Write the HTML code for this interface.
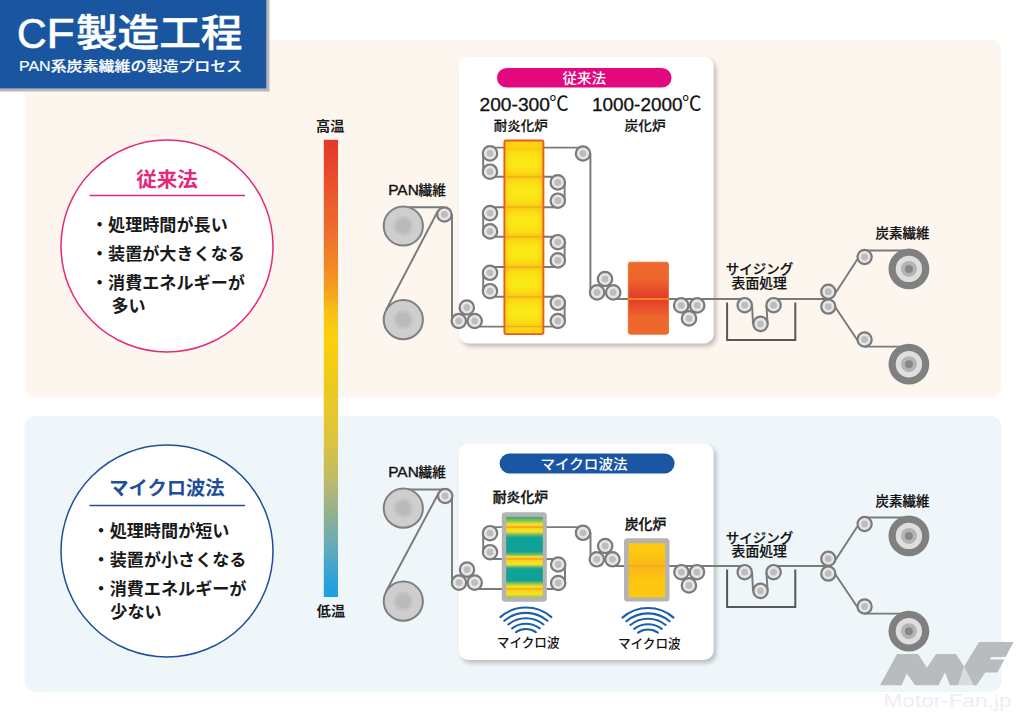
<!DOCTYPE html>
<html lang="ja"><head><meta charset="utf-8"><title>CF製造工程</title>
<style>html,body{margin:0;padding:0;background:#fff}body{width:1024px;height:722px;overflow:hidden}svg{display:block}text{font-family:"Liberation Sans","Noto Sans CJK JP",sans-serif}</style></head><body>
<svg width="1024" height="722" viewBox="0 0 1024 722">
<defs>
<linearGradient id="temp" x1="0" y1="0" x2="0" y2="1">
<stop offset="0" stop-color="#e5352b"/><stop offset="0.092" stop-color="#e9512b"/><stop offset="0.206" stop-color="#ee6f2c"/><stop offset="0.28" stop-color="#f28a24"/><stop offset="0.334" stop-color="#f5a31c"/><stop offset="0.372" stop-color="#f8bf14"/><stop offset="0.433" stop-color="#fbd00d"/><stop offset="0.504" stop-color="#f2cb14"/><stop offset="0.582" stop-color="#e9c82a"/><stop offset="0.661" stop-color="#dcc340"/><stop offset="0.74" stop-color="#c0bb68"/><stop offset="0.818" stop-color="#94b090"/><stop offset="0.897" stop-color="#5faabd"/><stop offset="0.96" stop-color="#2fa2d8"/><stop offset="1" stop-color="#1d9fe0"/>
</linearGradient>
<linearGradient id="yseg" x1="0" y1="0" x2="0" y2="1">
<stop offset="0" stop-color="#fbc214"/><stop offset="0.13" stop-color="#fbda13"/><stop offset="0.3" stop-color="#fae614"/><stop offset="0.5" stop-color="#f9ea15"/><stop offset="0.7" stop-color="#fae614"/><stop offset="0.87" stop-color="#fbda13"/><stop offset="1" stop-color="#fbc214"/>
</linearGradient>
<linearGradient id="yside" x1="0" y1="0" x2="1" y2="0">
<stop offset="0" stop-color="#f8b016" stop-opacity="0.45"/><stop offset="0.2" stop-color="#f9c514" stop-opacity="0"/><stop offset="0.8" stop-color="#f9c514" stop-opacity="0"/><stop offset="1" stop-color="#f8b016" stop-opacity="0.45"/>
</linearGradient>
<linearGradient id="carb1" x1="0" y1="0" x2="0" y2="1">
<stop offset="0" stop-color="#ee6a2b"/><stop offset="0.25" stop-color="#ec652b"/><stop offset="0.47" stop-color="#e63d2c"/><stop offset="0.53" stop-color="#e63d2c"/><stop offset="0.75" stop-color="#ec652b"/><stop offset="1" stop-color="#ee6a2b"/>
</linearGradient>
<linearGradient id="mw" x1="0" y1="0" x2="0" y2="1">
<stop offset="0" stop-color="#2fa587"/><stop offset="0.05" stop-color="#8cc152"/>
<stop offset="0.09" stop-color="#f2e226"/><stop offset="0.125" stop-color="#fbd01a"/><stop offset="0.185" stop-color="#f2e226"/>
<stop offset="0.222" stop-color="#6db96a"/><stop offset="0.26" stop-color="#10a199"/><stop offset="0.43" stop-color="#10a199"/>
<stop offset="0.467" stop-color="#6db96a"/><stop offset="0.495" stop-color="#f2e226"/><stop offset="0.52" stop-color="#fbd01a"/><stop offset="0.593" stop-color="#f2e226"/>
<stop offset="0.62" stop-color="#6db96a"/><stop offset="0.647" stop-color="#10a199"/><stop offset="0.792" stop-color="#10a199"/>
<stop offset="0.828" stop-color="#8cc152"/><stop offset="0.864" stop-color="#f4e01f"/><stop offset="0.895" stop-color="#fbd01a"/><stop offset="0.964" stop-color="#f4e01f"/>
<stop offset="1" stop-color="#9cc64a"/>
</linearGradient>
<linearGradient id="carb2" x1="0" y1="0" x2="0" y2="1">
<stop offset="0" stop-color="#fdca12"/><stop offset="0.2" stop-color="#fdc711"/><stop offset="0.38" stop-color="#fbba18"/><stop offset="0.5" stop-color="#fbba18"/><stop offset="0.68" stop-color="#fdc611"/><stop offset="1" stop-color="#fdc911"/>
</linearGradient>
<filter id="sh" x="-10%" y="-10%" width="125%" height="125%"><feGaussianBlur stdDeviation="2.1"/></filter>
</defs>
<rect x="24.5" y="40" width="977" height="357" rx="11" fill="#fdf6ee"/>
<rect x="24.5" y="416" width="977" height="276" rx="11" fill="#eef6fa"/>
<rect x="0" y="0" width="269.5" height="91.5" fill="#b7b6bd"/>
<rect x="0" y="0" width="266.3" height="88.4" fill="#1a559f"/>
<text x="16.9" y="48.2" font-size="43" font-weight="400" fill="#fff" text-anchor="start" textLength="29.6" lengthAdjust="spacingAndGlyphs" stroke="#fff" stroke-width="0.7">C</text>
<text x="46.4" y="48.2" font-size="43" font-weight="400" fill="#fff" text-anchor="start" textLength="28.1" lengthAdjust="spacingAndGlyphs" stroke="#fff" stroke-width="0.7">F</text>
<text x="76" y="46.2" font-size="38" font-weight="500" fill="#fff" text-anchor="start" textLength="166.5" lengthAdjust="spacingAndGlyphs" stroke="#fff" stroke-width="0.55">製造工程</text>
<text x="19" y="71.3" font-size="14" font-weight="500" fill="#fff" text-anchor="start" textLength="223.2" lengthAdjust="spacingAndGlyphs" stroke="#fff" stroke-width="0.2">PAN系炭素繊維の製造プロセス</text>
<rect x="323.8" y="139.8" width="14.2" height="457.2" fill="url(#temp)"/>
<text x="330.2" y="130.8" font-size="13.6" font-weight="700" fill="#1a1a1a" text-anchor="middle" textLength="28.2" lengthAdjust="spacingAndGlyphs">高温</text>
<text x="330.9" y="615.6" font-size="13.6" font-weight="700" fill="#1a1a1a" text-anchor="middle" textLength="28.2" lengthAdjust="spacingAndGlyphs">低温</text>
<circle cx="167" cy="246" r="106" fill="#fff" stroke="#e4287c" stroke-width="1.5"/>
<text x="167" y="186.5" font-size="20.5" font-weight="700" fill="#e4287c" text-anchor="middle">従来法</text>
<line x1="89.5" y1="195.5" x2="245" y2="195.5" stroke="#e4287c" stroke-width="1.3"/>
<text x="91" y="230.5" font-size="17.1" font-weight="700" fill="#1a1a1a" text-anchor="start">・処理時間が長い</text>
<text x="91" y="259.5" font-size="17.1" font-weight="700" fill="#1a1a1a" text-anchor="start">・装置が大きくなる</text>
<text x="91" y="288.5" font-size="17.1" font-weight="700" fill="#1a1a1a" text-anchor="start">・消費エネルギーが</text>
<text x="111.5" y="311.5" font-size="17.1" font-weight="700" fill="#1a1a1a" text-anchor="start">多い</text>
<circle cx="167" cy="551" r="106" fill="#fff" stroke="#1f4e9a" stroke-width="1.5"/>
<text x="167" y="494.5" font-size="19.3" font-weight="700" fill="#1f4e9a" text-anchor="middle">マイクロ波法</text>
<line x1="89.5" y1="505.5" x2="245" y2="505.5" stroke="#1f4e9a" stroke-width="1.3"/>
<text x="92.6" y="536.8" font-size="17.1" font-weight="700" fill="#1a1a1a" text-anchor="start">・処理時間が短い</text>
<text x="92.6" y="565.8" font-size="17.1" font-weight="700" fill="#1a1a1a" text-anchor="start">・装置が小さくなる</text>
<text x="92.6" y="594.8" font-size="17.1" font-weight="700" fill="#1a1a1a" text-anchor="start">・消費エネルギーが</text>
<text x="110.3" y="617.8" font-size="17.1" font-weight="700" fill="#1a1a1a" text-anchor="start">少ない</text>
<rect x="461.2" y="60" width="255" height="286.4" rx="9.5" fill="#3a3632" opacity="0.3" filter="url(#sh)"/>
<rect x="458.7" y="57" width="255" height="286.4" rx="9.5" fill="#fff"/>
<rect x="497" y="67.9" width="174.5" height="19.6" rx="9.8" fill="#e4087e"/>
<text x="584.3" y="82.6" font-size="13.6" font-weight="500" fill="#fff" text-anchor="middle" textLength="43.6" lengthAdjust="spacingAndGlyphs">従来法</text>
<text x="479.5" y="111" font-size="18.8" font-weight="400" fill="#111" text-anchor="start" textLength="70.5" lengthAdjust="spacingAndGlyphs" stroke="#111" stroke-width="0.3">200-300</text>
<text x="549.3" y="111.3" font-size="20" font-weight="400" fill="#111" text-anchor="start" textLength="19.5" lengthAdjust="spacingAndGlyphs">℃</text>
<text x="592" y="111" font-size="18.8" font-weight="400" fill="#111" text-anchor="start" textLength="90.5" lengthAdjust="spacingAndGlyphs" stroke="#111" stroke-width="0.3">1000-2000</text>
<text x="682" y="111.3" font-size="20" font-weight="400" fill="#111" text-anchor="start" textLength="19.5" lengthAdjust="spacingAndGlyphs">℃</text>
<text x="520.8" y="130.4" font-size="13" font-weight="500" fill="#111" text-anchor="middle" textLength="54" lengthAdjust="spacingAndGlyphs" stroke="#111" stroke-width="0.2">耐炎化炉</text>
<text x="645.1" y="130.4" font-size="13" font-weight="500" fill="#111" text-anchor="middle" textLength="41" lengthAdjust="spacingAndGlyphs" stroke="#111" stroke-width="0.2">炭化炉</text>
<text x="388.2" y="195" font-size="14.3" font-weight="400" fill="#111" text-anchor="start" textLength="30.6" lengthAdjust="spacingAndGlyphs" stroke="#111" stroke-width="0.35">PAN</text>
<text x="418.6" y="195" font-size="13.2" font-weight="500" fill="#111" text-anchor="start" textLength="27.4" lengthAdjust="spacingAndGlyphs" stroke="#111" stroke-width="0.2">繊維</text>
<path d="M403.3,207.3 H444 M385.8,310.5 L438,210.7 M452,214.5 V320" fill="none" stroke="#7a7a7a" stroke-width="1.95" stroke-linejoin="round"/>
<circle cx="403.3" cy="226" r="19.6" fill="#cecece" stroke="#7f7f7f" stroke-width="2"/><circle cx="403.3" cy="226" r="10" fill="#c4c4c4"/><circle cx="403.3" cy="226" r="7.2" fill="#bababa"/>
<circle cx="403.3" cy="319.7" r="19.6" fill="#cecece" stroke="#7f7f7f" stroke-width="2"/><circle cx="403.3" cy="319.7" r="10" fill="#c4c4c4"/><circle cx="403.3" cy="319.7" r="7.2" fill="#bababa"/>
<path d="M474.5,326.6 H557.8 M490,296.8 H557.8 M490,267 H557.8 M490,236.8 H557.8 M490,207.3 H557.8 M490,176.8 H557.8 M490,147.6 H583 M483.2,153.4 V171.7 M483.2,213.1 V231.4 M483.2,272.8 V291.2 M564.6,182.4 V200.7 M564.6,242.2 V260.4 M564.6,302.8 V321 M590.4,153.5 V292.4 M613,299 H745 " fill="none" stroke="#7a7a7a" stroke-width="1.95" stroke-linejoin="round"/>
<path d="M752.1,305.2 L753,323.8 M767.6,323.8 L766.4,305.2 M773.6,299 H828 M835.5,293 L857.3,259.5 M864.5,250.4 H905 M835.5,307.5 L858,341 M864.5,346.6 H905" fill="none" stroke="#7a7a7a" stroke-width="1.95" stroke-linejoin="round"/>
<rect x="504.4" y="140.5" width="39" height="193.6" rx="1.5" fill="#fbe713"/>
<g>
<rect x="504.4" y="147.6" width="39" height="29.2" fill="url(#yseg)"/>
<rect x="504.4" y="176.8" width="39" height="30.5" fill="url(#yseg)"/>
<rect x="504.4" y="207.3" width="39" height="29.5" fill="url(#yseg)"/>
<rect x="504.4" y="236.8" width="39" height="30.2" fill="url(#yseg)"/>
<rect x="504.4" y="267.0" width="39" height="29.8" fill="url(#yseg)"/>
<rect x="504.4" y="296.8" width="39" height="29.8" fill="url(#yseg)"/>
<rect x="504.4" y="140.5" width="39" height="7.1" fill="#fbd513"/>
<rect x="504.4" y="326.6" width="39" height="7.5" fill="#fbd513"/>
<rect x="504.4" y="140.5" width="39" height="193.6" fill="url(#yside)"/>
</g>
<path d="M504.4,176.8 H543.4 M504.4,207.3 H543.4 M504.4,236.8 H543.4 M504.4,267 H543.4 M504.4,296.8 H543.4 M504.4,326.6 H543.4" stroke="#d9902a" stroke-width="1.1" fill="none" opacity="0.55"/>
<rect x="504.4" y="140.5" width="39" height="193.6" rx="1.5" fill="none" stroke="#ea5b1d" stroke-width="1.9"/>
<circle cx="490" cy="153.4" r="7.2" fill="#e6e6e6" stroke="#7a7a7a" stroke-width="2.2"/><circle cx="490" cy="153.4" r="3.4" fill="#bdbdbd"/>
<circle cx="490" cy="171.7" r="7.2" fill="#e6e6e6" stroke="#7a7a7a" stroke-width="2.2"/><circle cx="490" cy="171.7" r="3.4" fill="#bdbdbd"/>
<circle cx="490" cy="213.1" r="7.2" fill="#e6e6e6" stroke="#7a7a7a" stroke-width="2.2"/><circle cx="490" cy="213.1" r="3.4" fill="#bdbdbd"/>
<circle cx="490" cy="231.4" r="7.2" fill="#e6e6e6" stroke="#7a7a7a" stroke-width="2.2"/><circle cx="490" cy="231.4" r="3.4" fill="#bdbdbd"/>
<circle cx="490" cy="272.8" r="7.2" fill="#e6e6e6" stroke="#7a7a7a" stroke-width="2.2"/><circle cx="490" cy="272.8" r="3.4" fill="#bdbdbd"/>
<circle cx="490" cy="291.2" r="7.2" fill="#e6e6e6" stroke="#7a7a7a" stroke-width="2.2"/><circle cx="490" cy="291.2" r="3.4" fill="#bdbdbd"/>
<circle cx="557.8" cy="182.4" r="7.2" fill="#e6e6e6" stroke="#7a7a7a" stroke-width="2.2"/><circle cx="557.8" cy="182.4" r="3.4" fill="#bdbdbd"/>
<circle cx="557.8" cy="200.7" r="7.2" fill="#e6e6e6" stroke="#7a7a7a" stroke-width="2.2"/><circle cx="557.8" cy="200.7" r="3.4" fill="#bdbdbd"/>
<circle cx="557.8" cy="242.2" r="7.2" fill="#e6e6e6" stroke="#7a7a7a" stroke-width="2.2"/><circle cx="557.8" cy="242.2" r="3.4" fill="#bdbdbd"/>
<circle cx="557.8" cy="260.4" r="7.2" fill="#e6e6e6" stroke="#7a7a7a" stroke-width="2.2"/><circle cx="557.8" cy="260.4" r="3.4" fill="#bdbdbd"/>
<circle cx="557.8" cy="302.8" r="7.2" fill="#e6e6e6" stroke="#7a7a7a" stroke-width="2.2"/><circle cx="557.8" cy="302.8" r="3.4" fill="#bdbdbd"/>
<circle cx="557.8" cy="321" r="7.2" fill="#e6e6e6" stroke="#7a7a7a" stroke-width="2.2"/><circle cx="557.8" cy="321" r="3.4" fill="#bdbdbd"/>
<circle cx="583" cy="153.5" r="7.2" fill="#e6e6e6" stroke="#7a7a7a" stroke-width="2.2"/><circle cx="583" cy="153.5" r="3.4" fill="#bdbdbd"/>
<circle cx="444.4" cy="214.5" r="7.2" fill="#e6e6e6" stroke="#7a7a7a" stroke-width="2.2"/><circle cx="444.4" cy="214.5" r="3.4" fill="#bdbdbd"/>
<circle cx="466.8" cy="307.5" r="7.2" fill="#e6e6e6" stroke="#7a7a7a" stroke-width="2.2"/><circle cx="466.8" cy="307.5" r="3.4" fill="#bdbdbd"/>
<circle cx="458.8" cy="321" r="7.2" fill="#e6e6e6" stroke="#7a7a7a" stroke-width="2.2"/><circle cx="458.8" cy="321" r="3.4" fill="#bdbdbd"/>
<circle cx="474.7" cy="321" r="7.2" fill="#e6e6e6" stroke="#7a7a7a" stroke-width="2.2"/><circle cx="474.7" cy="321" r="3.4" fill="#bdbdbd"/>
<circle cx="605" cy="279" r="7.2" fill="#e6e6e6" stroke="#7a7a7a" stroke-width="2.2"/><circle cx="605" cy="279" r="3.4" fill="#bdbdbd"/>
<circle cx="597.1" cy="292.4" r="7.2" fill="#e6e6e6" stroke="#7a7a7a" stroke-width="2.2"/><circle cx="597.1" cy="292.4" r="3.4" fill="#bdbdbd"/>
<circle cx="613.2" cy="292.4" r="7.2" fill="#e6e6e6" stroke="#7a7a7a" stroke-width="2.2"/><circle cx="613.2" cy="292.4" r="3.4" fill="#bdbdbd"/>
<rect x="628.3" y="262.2" width="40.2" height="72" rx="2.2" fill="url(#carb1)" stroke="#f06423" stroke-width="0.8"/>
<rect x="628.3" y="298.1" width="40.2" height="1.8" fill="#f7901e"/>
<circle cx="681.2" cy="305.4" r="7.2" fill="#e6e6e6" stroke="#7a7a7a" stroke-width="2.2"/><circle cx="681.2" cy="305.4" r="3.4" fill="#bdbdbd"/>
<circle cx="697.2" cy="305.4" r="7.2" fill="#e6e6e6" stroke="#7a7a7a" stroke-width="2.2"/><circle cx="697.2" cy="305.4" r="3.4" fill="#bdbdbd"/>
<circle cx="689" cy="318.4" r="7.2" fill="#e6e6e6" stroke="#7a7a7a" stroke-width="2.2"/><circle cx="689" cy="318.4" r="3.4" fill="#bdbdbd"/>
<path d="M727.1,302.5 V340 H795.3 V302.5" fill="none" stroke="#595757" stroke-width="2"/>
<circle cx="744.7" cy="305.2" r="7.2" fill="#e6e6e6" stroke="#7a7a7a" stroke-width="2.2"/><circle cx="744.7" cy="305.2" r="3.4" fill="#bdbdbd"/>
<circle cx="773.6" cy="305.2" r="7.2" fill="#e6e6e6" stroke="#7a7a7a" stroke-width="2.2"/><circle cx="773.6" cy="305.2" r="3.4" fill="#bdbdbd"/>
<circle cx="760.5" cy="323.9" r="7.2" fill="#e6e6e6" stroke="#7a7a7a" stroke-width="2.2"/><circle cx="760.5" cy="323.9" r="3.4" fill="#bdbdbd"/>
<text x="759.5" y="274.4" font-size="13.3" font-weight="500" fill="#111" text-anchor="middle" textLength="67.5" lengthAdjust="spacingAndGlyphs" stroke="#111" stroke-width="0.2">サイジング</text>
<text x="759.2" y="287.7" font-size="13.3" font-weight="500" fill="#111" text-anchor="middle" textLength="55.2" lengthAdjust="spacingAndGlyphs" stroke="#111" stroke-width="0.2">表面処理</text>
<circle cx="828.3" cy="291.7" r="7.1" fill="#e6e6e6" stroke="#7a7a7a" stroke-width="2.2"/><circle cx="828.3" cy="291.7" r="3.4" fill="#bdbdbd"/>
<circle cx="828.3" cy="306.6" r="7.1" fill="#e6e6e6" stroke="#7a7a7a" stroke-width="2.2"/><circle cx="828.3" cy="306.6" r="3.4" fill="#bdbdbd"/>
<circle cx="864.6" cy="257" r="7.1" fill="#e6e6e6" stroke="#7a7a7a" stroke-width="2.2"/><circle cx="864.6" cy="257" r="3.4" fill="#bdbdbd"/>
<circle cx="864.6" cy="339.5" r="7.1" fill="#e6e6e6" stroke="#7a7a7a" stroke-width="2.2"/><circle cx="864.6" cy="339.5" r="3.4" fill="#bdbdbd"/>
<circle cx="908.9" cy="268.9" r="20.4" fill="#808080"/><circle cx="908.9" cy="268.9" r="13.2" fill="#dedede"/><circle cx="908.9" cy="268.9" r="8" fill="#b4b4b4"/><circle cx="908.9" cy="268.9" r="4" fill="#878787"/>
<circle cx="908.9" cy="364.2" r="20.4" fill="#808080"/><circle cx="908.9" cy="364.2" r="13.2" fill="#dedede"/><circle cx="908.9" cy="364.2" r="8" fill="#b4b4b4"/><circle cx="908.9" cy="364.2" r="4" fill="#878787"/>
<text x="902.6" y="237.5" font-size="13.2" font-weight="500" fill="#111" text-anchor="middle" textLength="54" lengthAdjust="spacingAndGlyphs" stroke="#111" stroke-width="0.2">炭素繊維</text>
<rect x="461.0" y="446.8" width="255.2" height="216.1" rx="9.5" fill="#3a3632" opacity="0.3" filter="url(#sh)"/>
<rect x="458.5" y="443.8" width="255.2" height="216.1" rx="9.5" fill="#fff"/>
<rect x="499.6" y="453.6" width="175" height="19.8" rx="9.9" fill="#1a56a4"/>
<text x="584" y="468.6" font-size="14" font-weight="500" fill="#fff" text-anchor="middle" textLength="87" lengthAdjust="spacingAndGlyphs">マイクロ波法</text>
<text x="520.4" y="501.6" font-size="13.2" font-weight="500" fill="#111" text-anchor="middle" textLength="55.3" lengthAdjust="spacingAndGlyphs" stroke="#111" stroke-width="0.35">耐炎化炉</text>
<text x="645.5" y="528.5" font-size="13.2" font-weight="500" fill="#111" text-anchor="middle" textLength="41.5" lengthAdjust="spacingAndGlyphs" stroke="#111" stroke-width="0.35">炭化炉</text>
<text x="388.2" y="476.8" font-size="14.3" font-weight="400" fill="#111" text-anchor="start" textLength="30.6" lengthAdjust="spacingAndGlyphs" stroke="#111" stroke-width="0.35">PAN</text>
<text x="418.6" y="476.8" font-size="13.2" font-weight="500" fill="#111" text-anchor="start" textLength="27.4" lengthAdjust="spacingAndGlyphs" stroke="#111" stroke-width="0.2">繊維</text>
<path d="M403.3,489.4 H444 M385.8,592 L438.8,492.7 M452,496 V582" fill="none" stroke="#7a7a7a" stroke-width="1.95" stroke-linejoin="round"/>
<circle cx="403.3" cy="508.2" r="19.6" fill="#cecece" stroke="#7f7f7f" stroke-width="2"/><circle cx="403.3" cy="508.2" r="10" fill="#c4c4c4"/><circle cx="403.3" cy="508.2" r="7.2" fill="#bababa"/>
<circle cx="403.3" cy="601.2" r="19.6" fill="#cecece" stroke="#7f7f7f" stroke-width="2"/><circle cx="403.3" cy="601.2" r="10" fill="#c4c4c4"/><circle cx="403.3" cy="601.2" r="7.2" fill="#bababa"/>
<path d="M474.7,589 H558.2 M490,558.9 H558.2 M490,527.1 H583 M483.2,533.2 V552.2 M565,564.5 V583 M590.5,532.8 V555 L592,557.5 M612,566 H745" fill="none" stroke="#7a7a7a" stroke-width="1.95" stroke-linejoin="round"/>
<path d="M752.1,572.2 L753,590.8 M767.6,590.8 L766.4,572.2 M773.6,566 H828 M835.5,560 L857.3,526.5 M864.5,517.4 H905 M835.5,574.5 L858,608 M864.5,613.6 H905" fill="none" stroke="#7a7a7a" stroke-width="1.95" stroke-linejoin="round"/>
<rect x="501.8" y="512.2" width="45" height="89.5" rx="3.5" fill="#b3b3b3"/>
<rect x="506.2" y="516.9" width="36.6" height="80.4" fill="url(#mw)"/>
<path d="M506.2,527.1 H542.8 M506.2,558.9 H542.8 M506.2,589 H542.8" stroke="#f5a21e" stroke-width="1.6" fill="none" opacity="0.9"/>
<rect x="624" y="538.3" width="45.5" height="63.3" rx="3.5" fill="#b3b3b3"/>
<rect x="628.7" y="543.2" width="36.5" height="54.1" fill="url(#carb2)"/>
<path d="M628.7,565.9 H665.2" stroke="#e59a2a" stroke-width="1.2" fill="none" opacity="0.7"/>
<circle cx="490" cy="533.2" r="7.2" fill="#e6e6e6" stroke="#7a7a7a" stroke-width="2.2"/><circle cx="490" cy="533.2" r="3.4" fill="#bdbdbd"/>
<circle cx="490" cy="552.2" r="7.2" fill="#e6e6e6" stroke="#7a7a7a" stroke-width="2.2"/><circle cx="490" cy="552.2" r="3.4" fill="#bdbdbd"/>
<circle cx="558.2" cy="564.5" r="7.2" fill="#e6e6e6" stroke="#7a7a7a" stroke-width="2.2"/><circle cx="558.2" cy="564.5" r="3.4" fill="#bdbdbd"/>
<circle cx="558.2" cy="583" r="7.2" fill="#e6e6e6" stroke="#7a7a7a" stroke-width="2.2"/><circle cx="558.2" cy="583" r="3.4" fill="#bdbdbd"/>
<circle cx="583" cy="532.8" r="7.2" fill="#e6e6e6" stroke="#7a7a7a" stroke-width="2.2"/><circle cx="583" cy="532.8" r="3.4" fill="#bdbdbd"/>
<circle cx="445.2" cy="496" r="7.2" fill="#e6e6e6" stroke="#7a7a7a" stroke-width="2.2"/><circle cx="445.2" cy="496" r="3.4" fill="#bdbdbd"/>
<circle cx="467" cy="569.6" r="7.2" fill="#e6e6e6" stroke="#7a7a7a" stroke-width="2.2"/><circle cx="467" cy="569.6" r="3.4" fill="#bdbdbd"/>
<circle cx="459" cy="582.6" r="7.2" fill="#e6e6e6" stroke="#7a7a7a" stroke-width="2.2"/><circle cx="459" cy="582.6" r="3.4" fill="#bdbdbd"/>
<circle cx="474.7" cy="582.6" r="7.2" fill="#e6e6e6" stroke="#7a7a7a" stroke-width="2.2"/><circle cx="474.7" cy="582.6" r="3.4" fill="#bdbdbd"/>
<circle cx="605.2" cy="546" r="7.2" fill="#e6e6e6" stroke="#7a7a7a" stroke-width="2.2"/><circle cx="605.2" cy="546" r="3.4" fill="#bdbdbd"/>
<circle cx="596.8" cy="559.3" r="7.2" fill="#e6e6e6" stroke="#7a7a7a" stroke-width="2.2"/><circle cx="596.8" cy="559.3" r="3.4" fill="#bdbdbd"/>
<circle cx="612.4" cy="559.3" r="7.2" fill="#e6e6e6" stroke="#7a7a7a" stroke-width="2.2"/><circle cx="612.4" cy="559.3" r="3.4" fill="#bdbdbd"/>
<circle cx="681.4" cy="572.2" r="7.2" fill="#e6e6e6" stroke="#7a7a7a" stroke-width="2.2"/><circle cx="681.4" cy="572.2" r="3.4" fill="#bdbdbd"/>
<circle cx="697" cy="572.2" r="7.2" fill="#e6e6e6" stroke="#7a7a7a" stroke-width="2.2"/><circle cx="697" cy="572.2" r="3.4" fill="#bdbdbd"/>
<circle cx="688.9" cy="585.4" r="7.2" fill="#e6e6e6" stroke="#7a7a7a" stroke-width="2.2"/><circle cx="688.9" cy="585.4" r="3.4" fill="#bdbdbd"/>
<path d="M500.4,617.1 A38.8,38.8 0 0 1 551.4,617.1 M504.3,620.8 A33.4,33.4 0 0 1 547.5,620.8 M508.3,624.5 A28,28 0 0 1 543.5,624.5 M512.1,628.4 A22.6,22.6 0 0 1 539.7,628.4 M516.0,632.2 A17.2,17.2 0 0 1 535.8,632.2" fill="none" stroke="#1c5fab" stroke-width="2.1" stroke-linecap="round"/>
<path d="M622.5,617.6 A38.8,38.8 0 0 1 673.5,617.6 M626.4,621.3 A33.4,33.4 0 0 1 669.6,621.3 M630.4,625.0 A28,28 0 0 1 665.6,625.0 M634.2,628.9 A22.6,22.6 0 0 1 661.8,628.9 M638.1,632.7 A17.2,17.2 0 0 1 657.9,632.7" fill="none" stroke="#1c5fab" stroke-width="2.1" stroke-linecap="round"/>
<text x="528.2" y="647.3" font-size="13" font-weight="500" fill="#111" text-anchor="middle" textLength="62.8" lengthAdjust="spacingAndGlyphs">マイクロ波</text>
<text x="649.3" y="647.8" font-size="13" font-weight="500" fill="#111" text-anchor="middle" textLength="62.8" lengthAdjust="spacingAndGlyphs">マイクロ波</text>
<path d="M727.1,569.5 V607 H795.3 V569.5" fill="none" stroke="#595757" stroke-width="2"/>
<circle cx="744.7" cy="572.2" r="7.2" fill="#e6e6e6" stroke="#7a7a7a" stroke-width="2.2"/><circle cx="744.7" cy="572.2" r="3.4" fill="#bdbdbd"/>
<circle cx="773.6" cy="572.2" r="7.2" fill="#e6e6e6" stroke="#7a7a7a" stroke-width="2.2"/><circle cx="773.6" cy="572.2" r="3.4" fill="#bdbdbd"/>
<circle cx="760.5" cy="590.9" r="7.2" fill="#e6e6e6" stroke="#7a7a7a" stroke-width="2.2"/><circle cx="760.5" cy="590.9" r="3.4" fill="#bdbdbd"/>
<text x="759.5" y="542.6" font-size="13.3" font-weight="500" fill="#111" text-anchor="middle" textLength="67.5" lengthAdjust="spacingAndGlyphs" stroke="#111" stroke-width="0.2">サイジング</text>
<text x="759.2" y="555.9000000000001" font-size="13.3" font-weight="500" fill="#111" text-anchor="middle" textLength="55.2" lengthAdjust="spacingAndGlyphs" stroke="#111" stroke-width="0.2">表面処理</text>
<circle cx="828.3" cy="558.7" r="7.1" fill="#e6e6e6" stroke="#7a7a7a" stroke-width="2.2"/><circle cx="828.3" cy="558.7" r="3.4" fill="#bdbdbd"/>
<circle cx="828.3" cy="573.6" r="7.1" fill="#e6e6e6" stroke="#7a7a7a" stroke-width="2.2"/><circle cx="828.3" cy="573.6" r="3.4" fill="#bdbdbd"/>
<circle cx="864.6" cy="524" r="7.1" fill="#e6e6e6" stroke="#7a7a7a" stroke-width="2.2"/><circle cx="864.6" cy="524" r="3.4" fill="#bdbdbd"/>
<circle cx="864.6" cy="606.5" r="7.1" fill="#e6e6e6" stroke="#7a7a7a" stroke-width="2.2"/><circle cx="864.6" cy="606.5" r="3.4" fill="#bdbdbd"/>
<circle cx="908.9" cy="535.9" r="20.4" fill="#808080"/><circle cx="908.9" cy="535.9" r="13.2" fill="#dedede"/><circle cx="908.9" cy="535.9" r="8" fill="#b4b4b4"/><circle cx="908.9" cy="535.9" r="4" fill="#878787"/>
<circle cx="908.9" cy="631.2" r="20.4" fill="#808080"/><circle cx="908.9" cy="631.2" r="13.2" fill="#dedede"/><circle cx="908.9" cy="631.2" r="8" fill="#b4b4b4"/><circle cx="908.9" cy="631.2" r="4" fill="#878787"/>
<text x="902.6" y="505.7" font-size="13.2" font-weight="500" fill="#111" text-anchor="middle" textLength="54" lengthAdjust="spacingAndGlyphs" stroke="#111" stroke-width="0.2">炭素繊維</text>
<path d="M880,685.3 L897,654 L918,654 L927,667.7 L936,654 L956,654 L964.1,666.6 L979,642 L1013.5,642 L1005.6,657 L991.5,657 L989.8,659.5 L1004.4,659.5 L997.3,672.4 L985.3,672.4 L976.5,685.3 L973.2,685.3 L964.1,666.6 L958.3,685.3 L950,685.3 L945,672.4 L938.4,685.3 L915,685.3 L906.8,673.6 L901.6,685.3 Z" fill="#b9bcbe"/>
<path d="M964.1,666.6 L973.2,685.3 L958.3,685.3 Z" fill="#d9dbdd"/>
<text x="883.5" y="707" font-size="19" font-weight="400" fill="#eeeef2" text-anchor="start" textLength="128" lengthAdjust="spacingAndGlyphs">Motor-Fan.jp</text>
</svg></body></html>
